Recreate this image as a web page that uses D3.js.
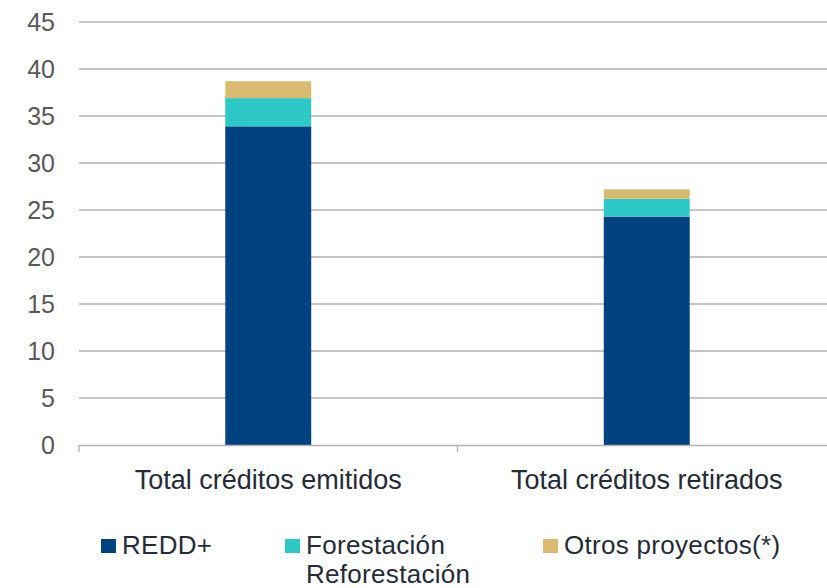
<!DOCTYPE html>
<html>
<head>
<meta charset="utf-8">
<script src="https://cdn.jsdelivr.net/npm/d3@7"></script>
<style>
  html, body { margin: 0; padding: 0; background: #fff; }
  svg { display: block; font-family: "Liberation Sans", Arial, sans-serif; }
</style>
</head>
<body>
<svg id="chart" width="827" height="588"></svg>
<script>
// Carbon credits by project type (millions)
const categories = ["Total créditos emitidos", "Total créditos retirados"];
const seriesNames = ["REDD+", "Forestación\nReforestación", "Otros proyectos(*)"];
const redd = [33.9, 24.3];
const forestacion = [3.0, 1.9];
const otros = [1.8, 1.0];
const yTicks = [0, 5, 10, 15, 20, 25, 30, 35, 40, 45];
const colors = ["#00427f", "#2ec9c6", "#d8bb70"];

const svg = d3.select("#chart");
const plotLeft = 79, plotRight = 836, plotTop = 22, plotBottom = 445;

const x = d3.scaleBand().domain(categories).range([plotLeft, plotRight]).paddingInner(0.773).paddingOuter(0.3865);
const y = d3.scaleLinear().domain([0, 45]).range([plotBottom, plotTop]);

// horizontal gridlines
svg.append("g")
  .selectAll("line")
  .data(yTicks.filter(d => d > 0))
  .join("line")
  .attr("x1", plotLeft).attr("x2", 827)
  .attr("y1", d => y(d)).attr("y2", d => y(d))
  .attr("stroke", "#b3b3b3").attr("stroke-width", 1.3);

// y-axis labels
svg.append("g")
  .selectAll("text")
  .data(yTicks)
  .join("text")
  .attr("x", 55).attr("y", d => y(d))
  .attr("dy", "0.36em")
  .attr("text-anchor", "end")
  .attr("font-size", 25)
  .attr("fill", "#595959")
  .text(d => d);

// stacked bars
const rows = categories.map((c, i) => ({ cat: c, s0: redd[i], s1: forestacion[i], s2: otros[i] }));
const stack = d3.stack().keys(["s0", "s1", "s2"])(rows);

svg.append("g")
  .selectAll("g")
  .data(stack)
  .join("g")
  .attr("fill", (d, i) => colors[i])
  .selectAll("rect")
  .data(d => d)
  .join("rect")
  .attr("x", d => x(d.data.cat))
  .attr("width", x.bandwidth())
  .attr("y", d => y(d[1]))
  .attr("height", d => y(d[0]) - y(d[1]));

// category axis
const axis = svg.append("g");
axis.append("line")
  .attr("x1", plotLeft).attr("x2", 827)
  .attr("y1", plotBottom + 0.5).attr("y2", plotBottom + 0.5)
  .attr("stroke", "#b3b3b3").attr("stroke-width", 1.3);
const bounds = [plotLeft, plotLeft + x.step()];
axis.selectAll("line.tick")
  .data(bounds)
  .join("line")
  .attr("class", "tick")
  .attr("x1", d => d).attr("x2", d => d)
  .attr("y1", plotBottom).attr("y2", plotBottom + 7)
  .attr("stroke", "#b3b3b3").attr("stroke-width", 1.3);

axis.selectAll("text")
  .data(categories)
  .join("text")
  .attr("x", d => x(d) + x.bandwidth() / 2)
  .attr("y", 489)
  .attr("text-anchor", "middle")
  .attr("font-size", 27)
  .attr("fill", "#262b38")
  .text(d => d);

// legend
const legendX = [101, 285, 543];
const legend = svg.append("g");
seriesNames.forEach((name, i) => {
  const g = legend.append("g");
  g.append("rect")
    .attr("x", legendX[i]).attr("y", 539)
    .attr("width", 15).attr("height", 14)
    .attr("fill", colors[i]);
  const t = g.append("text")
    .attr("x", legendX[i] + 21).attr("y", 554)
    .attr("font-size", 26)
    .attr("letter-spacing", 0.3)
    .attr("fill", "#262b38");
  name.split("\n").forEach((line, j) => {
    t.append("tspan").attr("x", legendX[i] + 21).attr("dy", j === 0 ? 0 : 29).text(line);
  });
});
</script>
</body>
</html>
